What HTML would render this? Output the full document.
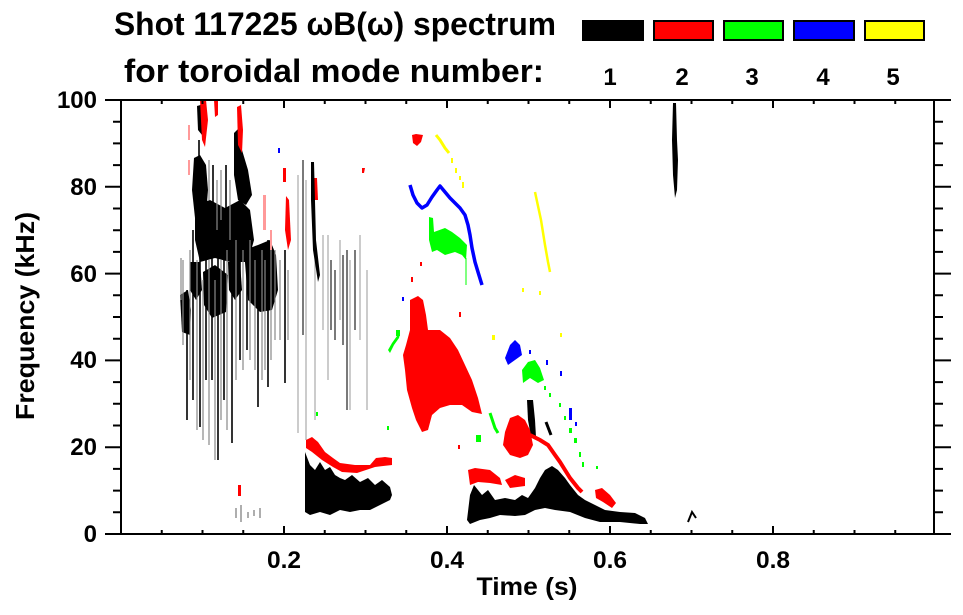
<!DOCTYPE html>
<html>
<head>
<meta charset="utf-8">
<style>
html,body{margin:0;padding:0;background:#fff;}
svg{display:block;}
text{font-family:"Liberation Sans",Arial,Helvetica,sans-serif;font-weight:bold;fill:#000;}
</style>
</head>
<body>
<svg width="963" height="615" viewBox="0 0 963 615" xmlns="http://www.w3.org/2000/svg">
<rect x="0" y="0" width="963" height="615" fill="#fff"/>

<!-- Title -->
<text x="114" y="35" font-size="32" textLength="442" lengthAdjust="spacingAndGlyphs">Shot 117225 ωB(ω) spectrum</text>
<text x="124" y="82" font-size="32" textLength="420" lengthAdjust="spacingAndGlyphs">for toroidal mode number:</text>

<!-- Legend -->
<g stroke="#000" stroke-width="2">
<rect x="583" y="21" width="60" height="19" fill="#000"/>
<rect x="654" y="21" width="59" height="19" fill="#ff0000"/>
<rect x="724" y="21" width="59" height="19" fill="#00ff00"/>
<rect x="794" y="21" width="60" height="19" fill="#0000ff"/>
<rect x="865" y="21" width="59" height="19" fill="#ffff00"/>
</g>
<g font-size="24" text-anchor="middle">
<text x="610" y="85">1</text>
<text x="682" y="85">2</text>
<text x="752" y="85">3</text>
<text x="823" y="85">4</text>
<text x="893" y="85">5</text>
</g>

<!-- ===== DATA ===== -->
<!-- left black cluster -->
<g fill="#000">
<polygon points="197,106 204,104 206,128 202,135 198,130"/>
<polygon points="194,158 200,155 206,165 208,190 206,215 195,218 192,190"/>
<polygon points="195,205 210,200 225,208 240,200 250,210 254,240 248,262 230,262 215,258 200,262 195,240"/>
<polygon points="234,133 239,128 242,150 248,170 252,195 246,205 238,200 234,175"/>
<polygon points="180,295 188,290 191,310 190,335 182,332"/>
<polygon points="203,272 215,265 228,275 226,312 212,318 204,305"/>
<polygon points="244,250 258,245 270,240 276,255 278,290 272,310 260,312 248,300"/>
<polygon points="190,262 200,262 202,290 196,300 190,290"/>
<polygon points="228,262 240,262 242,290 235,300 229,290"/>
</g>
<g stroke="#000" stroke-width="1.6">
<line x1="187" y1="290" x2="187" y2="420"/>
<line x1="193" y1="230" x2="193" y2="400"/>
<line x1="200" y1="250" x2="200" y2="427"/>
<line x1="206" y1="230" x2="206" y2="380"/>
<line x1="212" y1="230" x2="212" y2="380"/>
<line x1="218" y1="250" x2="218" y2="460"/>
<line x1="224" y1="240" x2="224" y2="400"/>
<line x1="232" y1="280" x2="232" y2="443"/>
<line x1="240" y1="240" x2="240" y2="360"/>
<line x1="247" y1="260" x2="247" y2="350"/>
<line x1="258" y1="270" x2="258" y2="407"/>
<line x1="268" y1="240" x2="268" y2="387"/>
<line x1="285" y1="250" x2="285" y2="383"/>
<line x1="213" y1="165" x2="213" y2="210"/>
<line x1="226" y1="165" x2="226" y2="215"/>
<line x1="199" y1="140" x2="199" y2="160"/>
</g>
<g stroke="#888" stroke-width="1.2">
<line x1="183" y1="260" x2="183" y2="345"/>
<line x1="190" y1="250" x2="190" y2="380"/>
<line x1="197" y1="260" x2="197" y2="430"/>
<line x1="203" y1="280" x2="203" y2="440"/>
<line x1="209" y1="260" x2="209" y2="445"/>
<line x1="215" y1="280" x2="215" y2="460"/>
<line x1="221" y1="260" x2="221" y2="420"/>
<line x1="227" y1="250" x2="227" y2="430"/>
<line x1="236" y1="240" x2="236" y2="380"/>
<line x1="243" y1="250" x2="243" y2="370"/>
<line x1="250" y1="240" x2="250" y2="360"/>
<line x1="255" y1="260" x2="255" y2="370"/>
<line x1="262" y1="250" x2="262" y2="380"/>
<line x1="265" y1="260" x2="265" y2="370"/>
<line x1="271" y1="250" x2="271" y2="360"/>
<line x1="275" y1="250" x2="275" y2="340"/>
<line x1="280" y1="260" x2="280" y2="340"/>
<line x1="288" y1="270" x2="288" y2="340"/>
<line x1="217" y1="180" x2="217" y2="230"/>
<line x1="221" y1="170" x2="221" y2="220"/>
<line x1="230" y1="180" x2="230" y2="240"/>
<line x1="209" y1="160" x2="209" y2="200"/>
<line x1="181" y1="258" x2="181" y2="300"/>
</g>
<!-- red bits top-left -->
<g fill="#ff0000">
<polygon points="200,100 206,100 208,120 205,147 202,140 201,120"/>
<polygon points="237,107 241,105 243,130 242,153 238,145"/>
<polygon points="214,100 218,100 218,115 215,117"/>
<polygon points="286,196 289,200 291,240 288,250 285,230"/>
<polygon points="283,168 286,168 286,182 283,182"/>
<polygon points="313,178 317,178 318,200 314,200"/>
<polygon points="362,168 365,168 364,173 362,173"/>
<polygon points="238,485 241,485 241,496 238,496"/>
</g>
<g fill="#ff9999">
<polygon points="263,195 266,195 266,230 263,230"/>
<polygon points="270,230 272,230 272,250 270,250"/>
<polygon points="188,125 190,125 190,140 188,140"/>
<polygon points="188,160 190,160 190,175 188,175"/>
</g>
<rect x="278" y="148" width="2" height="5" fill="#0000ff"/>

<!-- right of 0.2 : gray lines -->
<g stroke="#aaa" stroke-width="1.2">
<line x1="298" y1="175" x2="298" y2="433"/>
<line x1="306" y1="180" x2="306" y2="440"/>
<line x1="315" y1="230" x2="315" y2="420"/>
<line x1="323" y1="235" x2="323" y2="330"/>
<line x1="328" y1="235" x2="328" y2="380"/>
<line x1="340" y1="240" x2="340" y2="320"/>
<line x1="350" y1="260" x2="350" y2="410"/>
<line x1="360" y1="235" x2="360" y2="340"/>
<line x1="367" y1="270" x2="367" y2="410"/>
</g>
<g stroke="#333" stroke-width="1.3">
<line x1="303" y1="160" x2="303" y2="335"/>
<line x1="331" y1="260" x2="331" y2="330"/>
<line x1="335" y1="270" x2="335" y2="340"/>
<line x1="343" y1="255" x2="343" y2="345"/>
<line x1="347" y1="250" x2="347" y2="410"/>
<line x1="355" y1="250" x2="355" y2="330"/>
</g>
<polygon points="311,162 314,162 316,240 320,275 318,282 313,250 311,200" fill="#000"/>

<!-- bottom band 0.23-0.33 -->
<polygon fill="#ff0000" points="306,440 312,437 318,442 325,452 333,458 340,463 355,465 370,465 376,458 385,457 392,458 392,465 375,467 357,473 342,472 333,467 322,460 312,452 306,448"/>
<polygon fill="#000" points="305,452 310,465 315,470 320,462 325,470 330,467 335,475 340,478 345,480 352,475 360,482 368,478 375,485 382,480 390,487 392,495 390,500 380,505 370,510 360,510 350,512 340,510 330,515 320,512 310,515 305,512"/>
<g stroke="#777" stroke-width="1.2">
<line x1="236" y1="508" x2="236" y2="518"/>
<line x1="241" y1="505" x2="241" y2="522"/>
<line x1="248" y1="512" x2="248" y2="518"/>
<line x1="254" y1="510" x2="254" y2="516"/>
<line x1="260" y1="508" x2="260" y2="518"/>
</g>

<!-- green bits -->
<g fill="#00ff00">
<polygon points="388,350 392,343 397,336 400,334 399,338 394,345 390,353"/>
<rect x="316" y="412" width="2" height="4"/>
<rect x="387" y="426" width="2" height="4"/>
<rect x="396" y="330" width="4" height="6"/>
</g>

<!-- 0.35 - 0.65 region -->
<!-- red top small -->
<polygon fill="#ff0000" points="412,135 416,134 423,135 421,142 417,146 413,143"/>
<!-- yellow top -->
<polyline fill="none" stroke="#ffff00" stroke-width="3" points="436,135 440,140 445,148 449,153"/>
<g fill="#ffff00">
<rect x="451" y="158" width="2" height="5"/>
<rect x="455" y="168" width="2" height="5"/>
<rect x="459" y="176" width="2" height="4"/>
<rect x="462" y="182" width="2" height="6"/>
<rect x="522" y="288" width="2" height="4"/>
<rect x="539" y="291" width="2" height="4"/>
<rect x="492" y="335" width="3" height="5"/>
<rect x="560" y="333" width="2" height="4"/>
</g>
<polyline fill="none" stroke="#ffff00" stroke-width="2.5" points="535,192 541,220 545,245 548,262 550,272"/>
<!-- blue arc -->
<polyline fill="none" stroke="#0000ff" stroke-width="3.5" stroke-linejoin="round" points="410,185 413,195 417,203 422,208 427,205 432,197 437,190 440,186 445,192 450,198 455,203 460,208 465,215 468,225 470,235 472,248 475,262 478,272 482,285"/>
<!-- green arc -->
<polygon fill="#00ff00" points="429,217 433,218 434,232 445,228 452,232 460,238 467,245 466,260 462,255 455,252 445,255 437,250 432,252 429,240"/>
<line x1="466" y1="258" x2="466" y2="285" stroke="#00ff00" stroke-width="1"/>
<!-- red big -->
<polygon fill="#ff0000" points="410,300 418,296 423,300 426,315 428,330 440,330 450,338 458,350 465,365 472,380 478,398 482,414 472,412 462,405 450,405 440,408 432,415 428,430 422,432 416,420 412,408 407,390 405,370 403,355 406,345 410,330"/>
<g fill="#ff0000">
<rect x="411" y="277" width="2" height="5"/>
<rect x="420" y="262" width="2" height="4"/>
<rect x="459" y="312" width="2" height="5"/>
<rect x="458" y="445" width="2" height="4"/>
</g>
<!-- blue patch and dots -->
<polygon fill="#0000ff" points="505,358 510,345 515,340 520,345 522,355 515,360 508,365"/>
<g fill="#0000ff">
<rect x="402" y="297" width="2" height="4"/>
<rect x="529" y="350" width="2" height="4"/>
<rect x="546" y="360" width="2" height="5"/>
<rect x="560" y="371" width="2" height="5"/>
<rect x="569" y="408" width="3" height="12"/>
<rect x="575" y="422" width="2" height="4"/>
</g>
<!-- green patch + diag -->
<polygon fill="#00ff00" points="522,370 528,362 535,360 540,368 544,380 538,383 530,378 523,383"/>
<g fill="#00ff00">
<rect x="544" y="386" width="2" height="4"/>
<rect x="549" y="393" width="2" height="4"/>
<rect x="559" y="403" width="2" height="4"/>
<rect x="564" y="416" width="2" height="4"/>
<rect x="569" y="428" width="3" height="5"/>
<rect x="574" y="438" width="3" height="5"/>
<rect x="579" y="452" width="2" height="5"/>
<rect x="582" y="462" width="2" height="5"/>
<rect x="596" y="466" width="2" height="3"/>
<rect x="476" y="435" width="5" height="7"/>
</g>
<polyline fill="none" stroke="#00ff00" stroke-width="3" points="490,413 493,422 495,428 498,433"/>
<!-- black streaks -->
<polygon fill="#000" points="527,400 533,400 535,420 536,437 531,437 528,420"/>
<line x1="546" y1="422" x2="551" y2="435" stroke="#000" stroke-width="3"/>
<!-- red patch -->
<polygon fill="#ff0000" points="505,432 510,418 518,415 525,420 530,430 533,445 528,455 520,458 510,455 503,445"/>
<polyline fill="none" stroke="#ff0000" stroke-width="4" points="530,435 540,440 548,445 555,455 560,462 565,470 570,478 578,488 582,492"/>
<polygon fill="#ff0000" points="595,490 602,488 610,495 616,503 612,508 603,502 596,498"/>
<polygon fill="#ff0000" points="468,470 475,468 490,470 500,478 502,485 490,483 478,482 470,485"/>
<polygon fill="#ff0000" points="505,480 515,475 525,478 525,486 510,488"/>
<!-- black low -->
<polygon fill="#000" points="467,520 470,495 474,485 478,490 482,495 488,490 495,500 505,498 515,500 522,495 528,498 535,488 540,478 545,470 552,466 558,470 565,478 570,485 578,495 585,500 595,505 605,510 620,512 635,513 645,518 648,524 640,524 620,522 600,522 585,518 570,512 555,510 545,508 535,510 525,515 515,516 500,515 490,518 480,520 470,524"/>
<!-- right black streak at 0.68 -->
<polygon fill="#000" points="673,103 676,103 677,140 678,160 677,190 675,198 673,175 672,140"/>
<polyline fill="none" stroke="#000" stroke-width="2" points="688,522 692,512 696,518"/>

<!-- ===== AXES ===== -->
<g stroke="#000" stroke-width="2" fill="none">
<rect x="121" y="100" width="813" height="434"/>
<!-- y ticks left & right -->
<path d="M105,534H121 M105,447.2H121 M105,360.4H121 M105,273.6H121 M105,186.8H121 M105,100H121
M113,512.3H121 M113,490.6H121 M113,468.9H121 M113,425.5H121 M113,403.8H121 M113,382.1H121 M113,338.7H121 M113,317H121 M113,295.3H121 M113,251.9H121 M113,230.2H121 M113,208.5H121 M113,165.1H121 M113,143.4H121 M113,121.7H121
M934,534H951 M934,447.2H951 M934,360.4H951 M934,273.6H951 M934,186.8H951 M934,100H951
M934,512.3H943 M934,490.6H943 M934,468.9H943 M934,425.5H943 M934,403.8H943 M934,382.1H943 M934,338.7H943 M934,317H943 M934,295.3H943 M934,251.9H943 M934,230.2H943 M934,208.5H943 M934,165.1H943 M934,143.4H943 M934,121.7H943"/>
<!-- x ticks bottom (inward) & top (inward) -->
<path d="M161.75,534V530 M202.5,534V530 M243.25,534V530 M284,534V526 M324.75,534V530 M365.5,534V530 M406.25,534V530 M447,534V526 M487.75,534V530 M528.5,534V530 M569.25,534V530 M610,534V526 M650.75,534V530 M691.5,534V530 M732.25,534V530 M773,534V526 M813.75,534V530 M854.5,534V530 M895.25,534V530
M161.75,100V104 M202.5,100V104 M243.25,100V104 M284,100V108 M324.75,100V104 M365.5,100V104 M406.25,100V104 M447,100V108 M487.75,100V104 M528.5,100V104 M569.25,100V104 M610,100V108 M650.75,100V104 M691.5,100V104 M732.25,100V104 M773,100V108 M813.75,100V104 M854.5,100V104 M895.25,100V104"/>
</g>

<!-- Y labels -->
<g font-size="24" text-anchor="end">
<text x="97" y="542">0</text>
<text x="97" y="455">20</text>
<text x="97" y="368">40</text>
<text x="97" y="282">60</text>
<text x="97" y="195">80</text>
<text x="97" y="108">100</text>
</g>
<!-- X labels -->
<g font-size="24.5" text-anchor="middle">
<text x="284" y="568">0.2</text>
<text x="447" y="568">0.4</text>
<text x="610" y="568">0.6</text>
<text x="773" y="568">0.8</text>
</g>
<text x="527" y="595" font-size="25" text-anchor="middle" textLength="101" lengthAdjust="spacingAndGlyphs">Time (s)</text>
<text transform="translate(34,316) rotate(-90)" font-size="26" text-anchor="middle" textLength="208" lengthAdjust="spacingAndGlyphs">Frequency (kHz)</text>
</svg>
</body>
</html>
